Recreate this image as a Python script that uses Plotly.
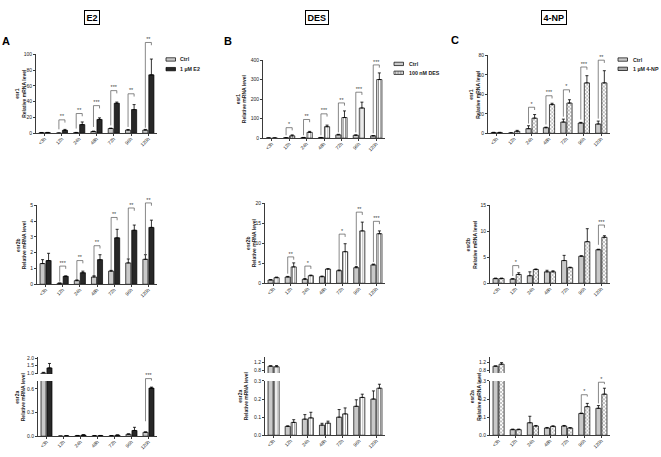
import plotly.graph_objects as go

W, H = 661, 457

categories = ["<3h", "12h", "24h", "48h", "72h", "96h", "120h"]

# ---------------- E2 ----------------
e2_esr1_ctrl = [0.8, 0.2, 0.8, 2.2, 6.0, 4.0, 4.0]
e2_esr1_ctrl_err = [0.2, 0.1, 0.3, 0.5, 0.5, 0.8, 0.9]
e2_esr1_trt = [0.9, 3.7, 11.0, 17.5, 38.0, 30.0, 74.0]
e2_esr1_trt_err = [0.2, 1.2, 3.3, 2.0, 1.5, 6.3, 20.0]
e2_esr1_sig = ["", "**", "**", "***", "***", "**", "**"]
e2_esr1_top = [None, 17, 25, 35, 54, 50, 115]
e2_esr1_low = [None, 5, 6, 8, 10, 8, 7]

e2_esr2b_ctrl = [1.31, 0.06, 0.23, 0.46, 0.83, 1.35, 1.58]
e2_esr2b_ctrl_err = [0.25, 0.02, 0.05, 0.08, 0.05, 0.25, 0.29]
e2_esr2b_trt = [1.5, 0.5, 0.73, 1.56, 2.94, 3.42, 3.6]
e2_esr2b_trt_err = [0.46, 0.03, 0.1, 0.31, 0.54, 0.33, 0.46]
e2_esr2b_sig = ["", "***", "**", "**", "**", "**", "**"]
e2_esr2b_top = [None, 1.15, 1.5, 2.44, 4.23, 4.83, 5.15]
e2_esr2b_low = [None, 0.17, 0.31, 0.52, 0.9, 1.6, 1.77]

e2_esr2a_ctrl = [1.0, 0.001, 0.008, 0.006, 0.006, 0.025, 0.05]
e2_esr2a_ctrl_err = [0.05, 0.001, 0.002, 0.002, 0.002, 0.005, 0.005]
e2_esr2a_trt = [1.35, 0.005, 0.015, 0.008, 0.013, 0.073, 0.61]
e2_esr2a_trt_err = [0.3, 0.002, 0.004, 0.002, 0.004, 0.04, 0.012]
e2_esr2a_sig = ["", "", "", "", "", "", "***"]
e2_esr2a_top = [None, None, None, None, None, None, 0.73]
e2_esr2a_low = [None, None, None, None, None, None, 0.19]

# ---------------- DES ----------------
des_esr1_ctrl = [1, 2, 3, 3, 17, 15, 12]
des_esr1_ctrl_err = [0.5, 0.5, 1, 1, 3, 2, 1]
des_esr1_trt = [1, 12, 30, 59, 106, 155, 301]
des_esr1_trt_err = [0.5, 5, 5, 8, 34, 30, 34]
des_esr1_sig = ["", "*", "**", "***", "**", "***", "***"]
des_esr1_top = [None, 54, 96, 125, 181, 236, 376]
des_esr1_low = [None, 15, 15, 15, 30, 30, 25]

des_esr2b_ctrl = [0.83, 1.57, 1.0, 1.65, 3.15, 3.9, 4.6]
des_esr2b_ctrl_err = [0.1, 0.15, 0.2, 0.15, 0.2, 0.3, 0.2]
des_esr2b_trt = [1.4, 4.1, 1.9, 3.55, 7.9, 13.1, 12.4]
des_esr2b_trt_err = [0.15, 1.0, 0.15, 0.1, 2.0, 2.2, 0.7]
des_esr2b_sig = ["", "**", "*", "", "*", "**", "***"]
des_esr2b_top = [None, 6.6, 4.3, None, 12.3, 17.8, 15.5]
des_esr2b_low = [None, 2.4, 1.4, None, 3.6, 4.5, 5.3]

des_esr2a_ctrl = [1.0, 0.049, 0.089, 0.056, 0.1, 0.16, 0.2]
des_esr2a_ctrl_err = [0.02, 0.003, 0.025, 0.01, 0.042, 0.036, 0.045]
des_esr2a_trt = [0.97, 0.071, 0.096, 0.067, 0.118, 0.209, 0.26]
des_esr2a_trt_err = [0.06, 0.015, 0.031, 0.011, 0.033, 0.018, 0.022]
des_esr2a_sig = ["", "", "", "", "", "", ""]
des_esr2a_top = [None] * 7
des_esr2a_low = [None] * 7

# ---------------- 4-NP ----------------
np_esr1_ctrl = [0.7, 0.3, 4.7, 5.7, 11.5, 10.5, 9.5]
np_esr1_ctrl_err = [0.3, 0.1, 3.0, 0.6, 3.0, 0.7, 3.0]
np_esr1_trt = [0.7, 2.0, 15.5, 29.4, 31.0, 51.7, 51.7]
np_esr1_trt_err = [0.3, 1.0, 3.7, 1.4, 3.4, 7.4, 12.5]
np_esr1_sig = ["", "", "*", "***", "*", "***", "**"]
np_esr1_top = [None, None, 26.7, 38.5, 44.6, 68, 75]
np_esr1_low = [None, None, 10, 9, 17, 14, 15]

np_esr2b_ctrl = [0.9, 0.82, 1.45, 2.2, 4.37, 5.2, 6.45]
np_esr2b_ctrl_err = [0.1, 0.05, 0.75, 0.3, 1.0, 0.1, 0.1]
np_esr2b_trt = [0.9, 1.7, 2.65, 2.2, 3.0, 8.0, 8.85]
np_esr2b_trt_err = [0.1, 0.32, 0.1, 0.2, 0.1, 2.5, 0.3]
np_esr2b_sig = ["", "*", "", "", "", "", "***"]
np_esr2b_top = [None, 3.4, None, None, None, None, 11.2]
np_esr2b_low = [None, 1.4, None, None, None, None, 7.4]

np_esr2a_ctrl = [1.0, 0.031, 0.069, 0.04, 0.051, 0.12, 0.149]
np_esr2a_ctrl_err = [0.01, 0.003, 0.036, 0.003, 0.003, 0.003, 0.015]
np_esr2a_trt = [1.1, 0.031, 0.051, 0.049, 0.04, 0.158, 0.227]
np_esr2a_trt_err = [0.08, 0.003, 0.003, 0.003, 0.002, 0.018, 0.033]
np_esr2a_sig = ["", "", "", "", "", "*", "*"]
np_esr2a_top = [None, None, None, None, None, 0.224, 0.293]
np_esr2a_low = [None, None, None, None, None, 0.127, 0.176]

headers = ["E2", "DES", "4-NP"]
panel_letters = ["A", "B", "C"]
legend_ctrl = "Ctrl"
legend_trt = ["1 µM E2", "100 nM DES", "1 µM 4-NP"]

FONT = "Liberation Sans"
AXC = "#3a3a3a"
CTRL_FILL = "#c9c9c9"


def px(x):
    return x / W


def py(y):
    return 1 - y / H


def trt_marker(style):
    if style == "E2":
        return dict(color="#282828", line=dict(color="black", width=0.7))
    if style == "DES":
        return dict(color="white", line=dict(color="black", width=0.7),
                    pattern=dict(shape="|", fgcolor="#222", bgcolor="white", size=2.2, solidity=0.35))
    return dict(color="white", line=dict(color="black", width=0.7),
                pattern=dict(shape="x", fgcolor="#333", bgcolor="white", size=2.6, solidity=0.4))


panels = [
    # row 1
    dict(xpx=(36, 157), low=dict(px=(132, 52), rng=(0, 100), ticks=[0, 20, 40, 60, 80, 100], fmt="d"), up=None,
         d=(e2_esr1_ctrl, e2_esr1_ctrl_err, e2_esr1_trt, e2_esr1_trt_err, e2_esr1_sig, e2_esr1_top, e2_esr1_low),
         style="E2", gene="esr1", tx=21),
    dict(xpx=(263, 385), low=dict(px=(137, 58), rng=(0, 400), ticks=[0, 100, 200, 300, 400], fmt="d"), up=None,
         d=(des_esr1_ctrl, des_esr1_ctrl_err, des_esr1_trt, des_esr1_trt_err, des_esr1_sig, des_esr1_top, des_esr1_low),
         style="DES", gene="esr1", tx=241),
    dict(xpx=(488, 610), low=dict(px=(132, 53), rng=(0, 80), ticks=[0, 20, 40, 60, 80], fmt="d"), up=None,
         d=(np_esr1_ctrl, np_esr1_ctrl_err, np_esr1_trt, np_esr1_trt_err, np_esr1_sig, np_esr1_top, np_esr1_low),
         style="NP", gene="esr1", tx=474.5),
    # row 2
    dict(xpx=(37, 157), low=dict(px=(285, 205), rng=(0, 5), ticks=[0, 1, 2, 3, 4, 5], fmt="d"), up=None,
         d=(e2_esr2b_ctrl, e2_esr2b_ctrl_err, e2_esr2b_trt, e2_esr2b_trt_err, e2_esr2b_sig, e2_esr2b_top, e2_esr2b_low),
         style="E2", gene="esr2b", tx=21.5),
    dict(xpx=(265, 385), low=dict(px=(284, 203), rng=(0, 20), ticks=[0, 5, 10, 15, 20], fmt="d"), up=None,
         d=(des_esr2b_ctrl, des_esr2b_ctrl_err, des_esr2b_trt, des_esr2b_trt_err, des_esr2b_sig, des_esr2b_top, des_esr2b_low),
         style="DES", gene="esr2b", tx=251),
    dict(xpx=(490, 610), low=dict(px=(284, 205), rng=(0, 15), ticks=[0, 5, 10, 15], fmt="d"), up=None,
         d=(np_esr2b_ctrl, np_esr2b_ctrl_err, np_esr2b_trt, np_esr2b_trt_err, np_esr2b_sig, np_esr2b_top, np_esr2b_low),
         style="NP", gene="esr2b", tx=471.5),
    # row 3 (broken axes)
    dict(xpx=(38, 157), low=dict(px=(439, 383), rng=(0, 0.7), ticks=[0, 0.3, 0.6], fmt=".1f"),
         up=dict(px=(376, 359), rng=(0.933, 2.067), ticks=[1.0, 1.5, 2.0], fmt=".1f"),
         d=(e2_esr2a_ctrl, e2_esr2a_ctrl_err, e2_esr2a_trt, e2_esr2a_trt_err, e2_esr2a_sig, e2_esr2a_top, e2_esr2a_low),
         style="E2", gene="esr2a", tx=20.5),
    dict(xpx=(265, 385), low=dict(px=(438, 383), rng=(0, 0.3), ticks=[0, 0.1, 0.2, 0.3], fmt=".1f"),
         up=dict(px=(375, 359), rng=(0.65, 1.45), ticks=[0.8, 1.2], fmt=".1f"),
         d=(des_esr2a_ctrl, des_esr2a_ctrl_err, des_esr2a_trt, des_esr2a_trt_err, des_esr2a_sig, des_esr2a_top, des_esr2a_low),
         style="DES", gene="esr2a", tx=243),
    dict(xpx=(490, 610), low=dict(px=(438, 383), rng=(0, 0.3), ticks=[0, 0.1, 0.2, 0.3], fmt=".1f"),
         up=dict(px=(375, 359), rng=(0.65, 1.45), ticks=[0.8, 1.2], fmt=".1f"),
         d=(np_esr2a_ctrl, np_esr2a_ctrl_err, np_esr2a_trt, np_esr2a_trt_err, np_esr2a_sig, np_esr2a_top, np_esr2a_low),
         style="NP", gene="esr2a", tx=475.5),
]

fig = go.Figure()
layout = {}
annotations = []
shapes = []
xi = list(range(len(categories)))
OFF = 0.175  # bar center offset in group (bargap 0.3, 2 bars)

ycount = [0]


def new_y():
    ycount[0] += 1
    n = ycount[0]
    return ("yaxis" if n == 1 else f"yaxis{n}"), ("y" if n == 1 else f"y{n}")


def yaxis_dict(seg, xref):
    b, t = seg["px"]
    return dict(domain=[py(b), py(t)], anchor=xref, range=list(seg["rng"]),
                tickmode="array", tickvals=seg["ticks"], tickformat=seg["fmt"],
                showline=True, linecolor=AXC, linewidth=1, ticks="outside", ticklen=2,
                tickwidth=0.8, tickcolor=AXC, tickfont=dict(size=5, family=FONT, color="#222"),
                showgrid=False, zeroline=False, fixedrange=True)


for k, p in enumerate(panels):
    xn = k + 1
    xkey = "xaxis" if xn == 1 else f"xaxis{xn}"
    xref = "x" if xn == 1 else f"x{xn}"
    ykey, yref = new_y()
    layout[ykey] = yaxis_dict(p["low"], xref)
    layout[xkey] = dict(domain=[px(p["xpx"][0]), px(p["xpx"][1])], anchor=yref, range=[-0.5, 6.5],
                        tickmode="array", tickvals=xi, ticktext=categories, tickangle=-45,
                        showline=True, linecolor=AXC, linewidth=1, ticks="outside", ticklen=2,
                        tickwidth=0.8, tickcolor=AXC, tickfont=dict(size=4.8, family=FONT, color="#222"),
                        ticklabelstandoff=-2,
                        showgrid=False, zeroline=False, fixedrange=True)
    ctrl, ctrl_err, trt, trt_err, sig, top, lowv = p["d"]
    yrefs = [yref]
    if p["up"] is not None:
        ukey, uref = new_y()
        layout[ukey] = yaxis_dict(p["up"], xref)
        yrefs.append(uref)
    for yr in yrefs:
        fig.add_trace(go.Bar(x=xi, y=ctrl, xaxis=xref, yaxis=yr, showlegend=False,
                             marker=dict(color=CTRL_FILL, line=dict(color="black", width=0.7)),
                             error_y=dict(type="data", array=ctrl_err, arrayminus=[0] * 7, symmetric=False,
                                          color="black", thickness=0.8, width=1.5)))
        fig.add_trace(go.Bar(x=xi, y=trt, xaxis=xref, yaxis=yr, showlegend=False,
                             marker=trt_marker(p["style"]),
                             error_y=dict(type="data", array=trt_err, arrayminus=[0] * 7, symmetric=False,
                                          color="black", thickness=0.8, width=1.5)))
    # bracket axis (invisible, same scale as lower segment, extended upwards)
    b, t = p["low"]["px"]
    r0, r1 = p["low"]["rng"]
    ext = 28
    hpx = b - t
    bkey, bref = new_y()
    layout[bkey] = dict(domain=[py(b), py(t - ext)], anchor=xref, visible=False,
                        range=[r0, r0 + (r1 - r0) * (hpx + ext) / hpx], fixedrange=True)
    drop = 0.035 * (r1 - r0)
    bx, by, tx_, ty_, tt = [], [], [], [], []
    for i in xi:
        if sig[i]:
            bx += [i - OFF, i - OFF, i + OFF, i + OFF, None]
            by += [lowv[i], top[i], top[i], top[i] - drop, None]
            tx_.append(i)
            ty_.append(top[i])
            tt.append(sig[i])
    if bx:
        fig.add_trace(go.Scatter(x=bx, y=by, mode="lines", xaxis=xref, yaxis=bref, showlegend=False,
                                 line=dict(color="#555", width=0.7), hoverinfo="skip"))
        fig.add_trace(go.Scatter(x=tx_, y=ty_, text=tt, mode="text", textposition="top center",
                                 xaxis=xref, yaxis=bref, showlegend=False,
                                 textfont=dict(size=5.5, family=FONT, color="#444"), hoverinfo="skip"))
    # y-axis title
    if p["up"] is not None:
        yc = (b + p["up"]["px"][1]) / 2
    else:
        yc = (b + t) / 2
    annotations.append(dict(x=px(p["tx"]), y=py(yc), xref="paper", yref="paper", showarrow=False,
                            textangle=-90, xanchor="center", yanchor="middle",
                            text=f"<b>{p['gene']}<br>Relative mRNA level</b>",
                            font=dict(size=5, family=FONT, color="#222")))

# headers and panel letters
header_pos = [(91.5, 15), (317, 15), (553.5, 15)]
letter_pos = [(6, 38.5), (228, 38.5), (455, 37.5)]
for j in range(3):
    annotations.append(dict(x=px(header_pos[j][0]), y=py(header_pos[j][1]), xref="paper", yref="paper",
                            showarrow=False, text=f"<b>{headers[j]}</b>", xanchor="center", yanchor="middle",
                            bordercolor="black", borderwidth=1, borderpad=1.5,
                            font=dict(size=9, family=FONT, color="black")))
    annotations.append(dict(x=px(letter_pos[j][0]), y=py(letter_pos[j][1]), xref="paper", yref="paper",
                            showarrow=False, text=f"<b>{panel_letters[j]}</b>", xanchor="center",
                            yanchor="middle", font=dict(size=11, family=FONT, color="black")))

# manual legends (row 1)
legend_pos = [(166, 57.2, 67), (394, 61.7, 70.7), (618, 57.3, 66.7)]
styles = ["E2", "DES", "NP"]
for j in range(3):
    lx, ly1, ly2 = legend_pos[j]
    sw, sh = 9.5, 3.4
    shapes.append(dict(type="rect", xref="paper", yref="paper", x0=px(lx), x1=px(lx + sw),
                       y0=py(ly1 + sh / 2), y1=py(ly1 - sh / 2), fillcolor=CTRL_FILL,
                       line=dict(color="black", width=0.7)))
    if styles[j] == "E2":
        fill = "#282828"
    elif styles[j] == "DES":
        fill = "white"
    else:
        fill = "#a8a8a8"
    shapes.append(dict(type="rect", xref="paper", yref="paper", x0=px(lx), x1=px(lx + sw),
                       y0=py(ly2 + sh / 2), y1=py(ly2 - sh / 2), fillcolor=fill,
                       line=dict(color="black", width=0.7)))
    if styles[j] == "DES":
        for s in range(1, 6):
            xx = lx + s * sw / 6
            shapes.append(dict(type="line", xref="paper", yref="paper", x0=px(xx), x1=px(xx),
                               y0=py(ly2 + sh / 2), y1=py(ly2 - sh / 2), line=dict(color="#333", width=0.5)))
    annotations.append(dict(x=px(lx + sw + 3), y=py(ly1), xref="paper", yref="paper", showarrow=False,
                            text=f"<b>{legend_ctrl}</b>", xanchor="left", yanchor="middle",
                            font=dict(size=5.3, family=FONT, color="#222")))
    annotations.append(dict(x=px(lx + sw + 3), y=py(ly2), xref="paper", yref="paper", showarrow=False,
                            text=f"<b>{legend_trt[j]}</b>", xanchor="left", yanchor="middle",
                            font=dict(size=5.3, family=FONT, color="#222")))

fig.update_layout(
    width=W, height=H, margin=dict(l=0, r=0, t=0, b=0),
    paper_bgcolor="white", plot_bgcolor="rgba(0,0,0,0)",
    barmode="group", bargap=0.3, bargroupgap=0.15,
    showlegend=False, font=dict(family=FONT, size=6, color="#222"),
    hovermode=False,
    annotations=annotations, shapes=shapes,
    **layout,
)

fig.write_html("out.html", config=dict(responsive=False, displayModeBar=False),
               post_script="document.body.style.margin='0';document.body.style.overflow='hidden';")
